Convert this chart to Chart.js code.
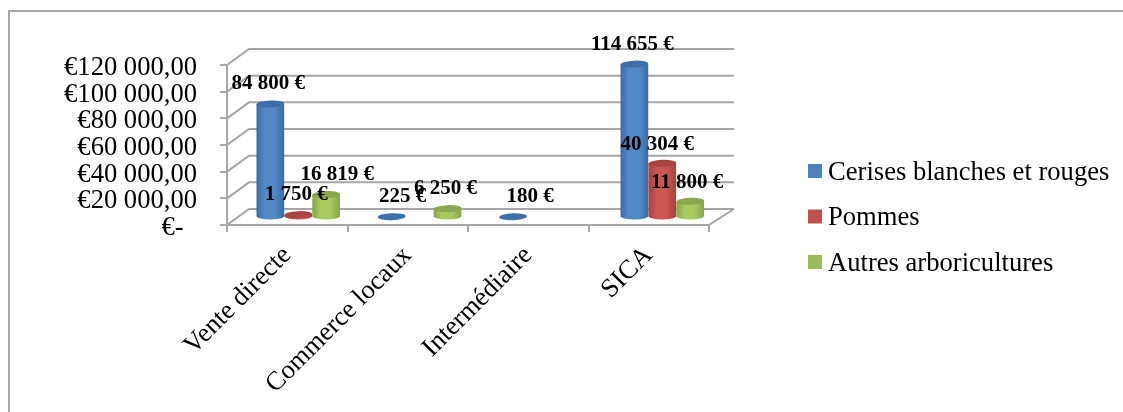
<!DOCTYPE html>
<html>
<head>
<meta charset="utf-8">
<script src="https://cdn.jsdelivr.net/npm/chart.js@4"></script>
<style>
  html, body { margin: 0; padding: 0; background: #fff; overflow: hidden; }
  canvas { display: block; }
</style>
</head>
<body>
<canvas id="chart" width="1123" height="412"></canvas>
<script>
const categories = ["Vente directe", "Commerce locaux", "Intermédiaire", "SICA"];
const cerises = [84800, 225, 180, 114655];
const pommes = [1750, null, null, 40304];
const autres = [16819, 6250, null, 11800];
const yTicks = [0, 20000, 40000, 60000, 80000, 100000, 120000];

const cerisesLabels = ["84 800 €", "225 €", "180 €", "114 655 €"];
const pommesLabels = ["1 750 €", null, null, "40 304 €"];
const autresLabels = ["16 819 €", "6 250 €", null, "11 800 €"];

// fake 3D depth of the old Excel chart
const GRAY = "#a6a6a6";
const DEPTH_X = 22;
const DEPTH_Y = 16;
const SERIF = '"Liberation Serif", "Times New Roman", serif';
const AXIS_FONT = 26.6;

// couleurs: corps (bord, centre) et dessus du cylindre
const cylinderColors = [
  { edge: "#3d6a9f", mid: "#5389c8", top: "#3f6fa6" },
  { edge: "#a5423f", mid: "#cc5652", top: "#a94441" },
  { edge: "#87a54c", mid: "#a8ca61", top: "#8aa64e" },
];

// petits decalages des etiquettes par rapport au haut du cylindre
const labelNudges = [
  [[-2, 1], [11, 1], [17, 1], [-2, 1]],
  [[-2, 1], null, null, [-5, 2]],
  [[11, 1], [-2, 1], null, [-3, 2]],
];

const wallPlugin = {
  id: "wall",
  beforeDraw(chart) {
    const { ctx, width, height } = chart;
    ctx.save();
    ctx.strokeStyle = GRAY;
    ctx.lineWidth = 2;
    ctx.beginPath();
    ctx.moveTo(9, height);
    ctx.lineTo(9, 11);
    ctx.lineTo(width, 11);
    ctx.stroke();
    ctx.restore();
  },
  beforeDatasetsDraw(chart) {
    const { ctx, chartArea, scales } = chart;
    const { left, right, bottom } = chartArea;
    ctx.save();
    ctx.strokeStyle = GRAY;
    ctx.lineWidth = 2;
    ctx.beginPath();
    yTicks.forEach((v) => {
      const y = scales.y.getPixelForValue(v);
      ctx.moveTo(left, y);
      ctx.lineTo(left + DEPTH_X, y - DEPTH_Y);
      ctx.lineTo(right + DEPTH_X + 3, y - DEPTH_Y);
    });
    ctx.moveTo(right, bottom);
    ctx.lineTo(right + DEPTH_X + 3, bottom - DEPTH_Y);
    ctx.stroke();
    ctx.restore();
  },
};

function drawCylinder(ctx, cx, topY, baseY, w, col) {
  const rx = w / 2;
  const ry = 3.5;
  const tilt = -0.04;
  if (baseY - topY > 0.5) {
    const grad = ctx.createLinearGradient(cx - rx, 0, cx + rx, 0);
    grad.addColorStop(0, col.edge);
    grad.addColorStop(0.3, col.mid);
    grad.addColorStop(0.65, col.mid);
    grad.addColorStop(1, col.edge);
    ctx.fillStyle = grad;
    ctx.beginPath();
    ctx.moveTo(cx - rx, topY);
    ctx.lineTo(cx - rx, baseY);
    ctx.ellipse(cx, baseY, rx, ry, 0, Math.PI, 0, true);
    ctx.lineTo(cx + rx, topY);
    ctx.closePath();
    ctx.fill();
  }
  ctx.fillStyle = col.top;
  ctx.beginPath();
  ctx.ellipse(cx, topY, rx, ry, tilt, 0, Math.PI * 2);
  ctx.fill();
}

const cylinderPlugin = {
  id: "cylinders",
  // les barres natives sont remplacees par les cylindres
  beforeDatasetDraw() {
    return false;
  },
  afterDatasetsDraw(chart) {
    const { ctx, scales } = chart;
    const midX = scales.x.getPixelForValue(0);
    ctx.save();
    chart.data.datasets.forEach((ds, di) => {
      chart.getDatasetMeta(di).data.forEach((bar, i) => {
        if (ds.data[i] == null) return;
        const dx = DEPTH_X / 2 + (bar.x - midX) * 0.007;
        drawCylinder(ctx, bar.x + dx, bar.y - DEPTH_Y / 2, bar.base - DEPTH_Y / 2, bar.width, cylinderColors[di]);
      });
    });
    ctx.font = "bold 21px " + SERIF;
    ctx.fillStyle = "#000";
    ctx.textAlign = "center";
    ctx.textBaseline = "middle";
    chart.data.datasets.forEach((ds, di) => {
      chart.getDatasetMeta(di).data.forEach((bar, i) => {
        const text = ds.valueTexts[i];
        if (!text) return;
        const n = labelNudges[di][i];
        const dx = DEPTH_X / 2 + (bar.x - midX) * 0.007;
        ctx.fillText(text, bar.x + dx + n[0], bar.y - DEPTH_Y / 2 - 21 + n[1]);
      });
    });
    ctx.restore();
  },
};

// legende dessinee a la main: l'ecart carre/texte natif est trop large
const legendPlugin = {
  id: "sideLegend",
  afterDraw(chart) {
    const { ctx } = chart;
    ctx.save();
    ctx.font = AXIS_FONT + "px " + SERIF;
    ctx.textBaseline = "middle";
    ctx.textAlign = "left";
    chart.data.datasets.forEach((ds, i) => {
      const y = 171 + i * 45.5;
      ctx.fillStyle = ds.backgroundColor;
      ctx.fillRect(808, y - 7, 14, 14);
      ctx.fillStyle = "#000";
      ctx.fillText(ds.label, 828, y + 2);
    });
    ctx.restore();
  },
};

new Chart(document.getElementById("chart"), {
  type: "bar",
  data: {
    labels: categories,
    datasets: [
      { label: "Cerises blanches et rouges", data: cerises, valueTexts: cerisesLabels, backgroundColor: "#4f81bd" },
      { label: "Pommes", data: pommes, valueTexts: pommesLabels, backgroundColor: "#c0504d" },
      { label: "Autres arboricultures", data: autres, valueTexts: autresLabels, backgroundColor: "#9bbb59" },
    ],
  },
  options: {
    responsive: false,
    animation: false,
    devicePixelRatio: 1,
    layout: { padding: { left: 0, top: 65, right: 414, bottom: 0 } },
    datasets: { bar: { barPercentage: 1, categoryPercentage: 0.69 } },
    plugins: {
      tooltip: { enabled: false },
      legend: { display: false },
    },
    scales: {
      x: {
        afterFit(scale) { scale.height = 187; },
        grid: { drawOnChartArea: false, color: GRAY, lineWidth: 2, tickLength: 7, offset: true },
        border: { color: GRAY, width: 2 },
        ticks: { color: "#000", font: { family: SERIF, size: AXIS_FONT }, maxRotation: 45, minRotation: 45, padding: 8 },
      },
      y: {
        min: 0,
        max: 120000,
        afterFit(scale) { scale.width = 227; },
        afterBuildTicks(scale) { scale.ticks = yTicks.map((value) => ({ value })); },
        grid: { drawOnChartArea: false, color: GRAY, lineWidth: 2, tickLength: 7 },
        border: { color: GRAY, width: 2 },
        ticks: {
          autoSkip: false,
          color: "#000",
          font: { family: SERIF, size: AXIS_FONT },
          padding: 23,
          labelOffset: 3,
          callback(v) {
            if (v === 0) return "€-  ";
            return "€" + String(v).replace(/(\d+)(\d{3})$/, "$1 $2") + ",00";
          },
        },
      },
    },
  },
  plugins: [wallPlugin, cylinderPlugin, legendPlugin],
});
</script>
</body>
</html>
